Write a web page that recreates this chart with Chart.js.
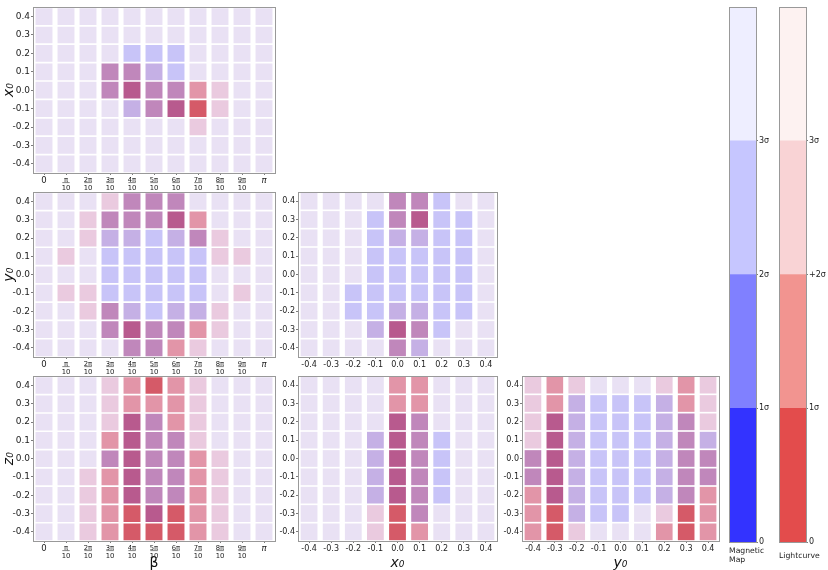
<!DOCTYPE html>
<html><head><meta charset="utf-8">
<style>html,body{margin:0;padding:0;background:#fff;overflow:hidden;width:828px;height:570px}canvas{position:absolute}</style>
<script src="https://cdn.jsdelivr.net/npm/chart.js@4"></script>
</head><body>
<script>
// Tick labels
const betaTicks = ['0',['π','10'],['2π','10'],['3π','10'],['4π','10'],['5π','10'],['6π','10'],['7π','10'],['8π','10'],['9π','10'],'π'];
const posTicks = ['-0.4','-0.3','-0.2','-0.1','0.0','0.1','0.2','0.3','0.4'];
// Cell significance classes, rows listed from 0.4 (top) down to -0.4
// 0 none, B magnetic 3s, P lightcurve 3s, L both 3s, M strong mixed, R lightcurve 2s, D very strong mixed, X lightcurve 1s
const betaX0 = ['00000000000','00000000000','0000BBB0000','000MMLB0000','000MDMMRP00','0000LMDXP00','0000000P000','00000000000','00000000000'];
const betaY0 = ['000PMMM0000','00PMMMDR000','00PLLBLMP00','0P0BBBBBPP0','000BBBBB000','0PPBBBBB0P0','00PMLBLLP00','000MDMMRP00','0000MMRP000'];
const betaZ0 = ['000PRXRP000','000PRRRP000','000PDMRP000','000RDMMP000','000MDMMRP00','00PRDMMRP00','00PRDMMRP00','00PRXDXRP00','00PRXXXRP00'];
const x0Y0 = ['0000MMB00','000BMDBB0','000BLLBB0','000BBBBB0','000BBBBB0','00BBBBBB0','00BBLLBB0','000LDMB00','0000ML000'];
const x0Z0 = ['0000RR000','0000RR000','0000DM000','000LDMB00','000LDMB00','000LDMB00','000LDMB00','000PXM000','000PXR000'];
const y0Z0 = ['PRP000PRP','PRLBBBLRP','PDLBBBLMP','PDLBBBLML','MDLBBBLMM','MDLBBBLMM','RDLBBBLMR','RXLBB0PXR','RXP000RXR'];
const cellColors = {'0':'#e9e1f4',B:'#c8c4f8',P:'#eacadf',L:'#c5b0e5',M:'#c087bb',R:'#e295a8',D:'#b85a8e',X:'#d55a68'};
// Colour bars
const barLevels = [1,1,1,1];
const magColors = ['#3333ff','#8080ff','#c6c6ff','#eeeeff'];
const lcColors = ['#e34c4c','#f29490','#f9d3d5','#fdf2f1'];
const magTicks = ['0','1σ','2σ','3σ'];
const lcTicks = ['0','1σ','+2σ','3σ'];

Chart.defaults.font.family = '"DejaVu Sans"';
Chart.defaults.color = '#222';
const FRAME = '#999';

const framePlugin = {
  id:'frame',
  afterDraw(c){
    const a=c.chartArea, g=c.ctx;
    g.save(); g.strokeStyle=FRAME; g.lineWidth=1;
    g.strokeRect(Math.round(a.left)+.5,Math.round(a.top)+.5,Math.round(a.right-a.left),Math.round(a.bottom-a.top));
    const xs=c.scales.x;
    if(c.options.plugins.frame.fractions){
      g.strokeStyle='#333'; g.lineWidth=.6;
      xs.ticks.forEach((t,i)=>{
        if(Array.isArray(t.label)){
          const p=xs.getPixelForTick(i), y=a.bottom+c.options.plugins.frame.barY;
          g.beginPath(); g.moveTo(p-3.7,y); g.lineTo(p+3.7,y); g.stroke();
        }
      });
    }
    g.restore();
  }
};

function addCanvas(l,t,w,h){
  const c=document.createElement('canvas');
  c.width=w;c.height=h;c.style.left=l+'px';c.style.top=t+'px';c.style.width=w+'px';c.style.height=h+'px';
  document.body.appendChild(c);return c;
}

function panel(r,xLabels,rows,xTitle,yTitle,yFont,xFont){
  const axisL=32, padT=6, padR=10, axisB=32;
  const cv=addCanvas(r.l-axisL,r.t-padT,r.r-r.l+axisL+padR,r.b-r.t+padT+axisB);
  const n=rows.length;
  const half=0.455;
  const datasets=rows.map((row,ri)=>{
    const yi=n-1-ri, chars=row.split('');
    return {data:chars.map(()=>[yi-half,yi+half]),backgroundColor:chars.map(ch=>cellColors[ch]),borderWidth:0,grouped:false,barPercentage:r.bp,categoryPercentage:1};
  });
  const isBeta=xLabels===betaTicks;
  new Chart(cv,{type:'bar',plugins:[framePlugin],
    data:{labels:xLabels,datasets},
    options:{responsive:false,animation:false,devicePixelRatio:1,
      layout:{padding:{left:0,right:padR,top:padT,bottom:0}},
      plugins:{legend:{display:false},tooltip:{enabled:false},frame:{fractions:isBeta,barY:9.6}},
      scales:{
        x:{type:'category',offset:true,
          grid:{display:true,drawOnChartArea:false,drawTicks:true,tickLength:2,color:'#444',lineWidth:.7,offset:false},
          border:{color:FRAME},
          title:{display:!!xTitle,text:xTitle,padding:{top:0,bottom:1},font:{size:14,style:xTitle==='β'?'normal':'italic'},color:'#111'},
          ticks:{autoSkip:false,maxRotation:0,minRotation:0,padding:1,color:'#222',
            font:ctx=>{const l=ctx.tick&&ctx.tick.label;return Array.isArray(l)?{size:6.8,lineHeight:1.15}:(l==='π'?{size:xFont,style:'italic'}:{size:xFont});}},
          afterFit:s=>{s.height=axisB;}
        },
        y:{type:'linear',min:-0.5,max:n-0.5,
          grid:{display:true,drawOnChartArea:false,drawTicks:true,tickLength:2,color:'#444',lineWidth:.7},
          border:{color:FRAME},
          title:{display:!!yTitle,text:yTitle,padding:{top:0,bottom:0},font:{size:14,style:'italic'},color:'#111'},
          ticks:{padding:1,autoSkip:false,color:'#222',font:{size:yFont},callback:v=>posTicks[v]},
          afterBuildTicks:s=>{s.ticks=posTicks.map((_,i)=>({value:i}));},
          afterFit:s=>{s.width=axisL;}
        }
      }
    }
  });
}

const colA={l:33,r:275,bp:0.77}, colB={l:298,r:497,bp:0.76}, colC={l:522,r:719,bp:0.76};
const row1={t:7,b:173}, row2={t:192,b:357}, row3={t:376,b:541};
panel({...colA,...row1},betaTicks,betaX0,'','x₀',9,8.5);
panel({...colA,...row2},betaTicks,betaY0,'','y₀',9,8.5);
panel({...colA,...row3},betaTicks,betaZ0,'β','z₀',9,8.5);
panel({...colB,...row2},posTicks,x0Y0,'','',8,8);
panel({...colB,...row3},posTicks,x0Z0,'x₀','',8,8);
panel({...colC,...row3},posTicks,y0Z0,'y₀','',8,8);

function colorBar(left,width,colors,ticks,title,titlePad){
  const barW=27, padT=6, axisB=27, top=7, bottom=542;
  const cv=addCanvas(left,top-padT,width,bottom-top+padT+axisB);
  new Chart(cv,{type:'bar',plugins:[framePlugin],
    data:{labels:[title],datasets:barLevels.map((v,i)=>({data:[v],backgroundColor:colors[i],borderWidth:0,barPercentage:1,categoryPercentage:1}))},
    options:{responsive:false,animation:false,devicePixelRatio:1,
      layout:{padding:{left:0,right:0,top:padT,bottom:0}},
      plugins:{legend:{display:false},tooltip:{enabled:false},frame:{fractions:false}},
      scales:{
        x:{stacked:true,grid:{display:false,drawTicks:false},border:{color:FRAME},
          ticks:{align:'start',labelOffset:-barW/2,autoSkip:false,maxRotation:0,minRotation:0,padding:titlePad,color:'#222',font:{size:7.7,lineHeight:1.25}},
          afterFit:s=>{s.height=axisB;s.paddingLeft=0;s.paddingRight=0;}},
        y:{stacked:true,position:'right',min:0,max:4,
          grid:{display:true,drawOnChartArea:false,drawTicks:true,tickLength:2,color:'#444',lineWidth:.7},
          border:{color:FRAME},
          ticks:{padding:1,color:'#222',autoSkip:false,font:{size:8},callback:v=>ticks[v]},
          afterBuildTicks:s=>{s.ticks=ticks.map((_,i)=>({value:i}));},
          afterFit:s=>{s.width=width-barW;}}
      }
    }
  });
}
colorBar(729,50,magColors,magTicks,['Magnetic','Map'],4);
colorBar(779,49,lcColors,lcTicks,'Lightcurve',9);
</script>
</body></html>
